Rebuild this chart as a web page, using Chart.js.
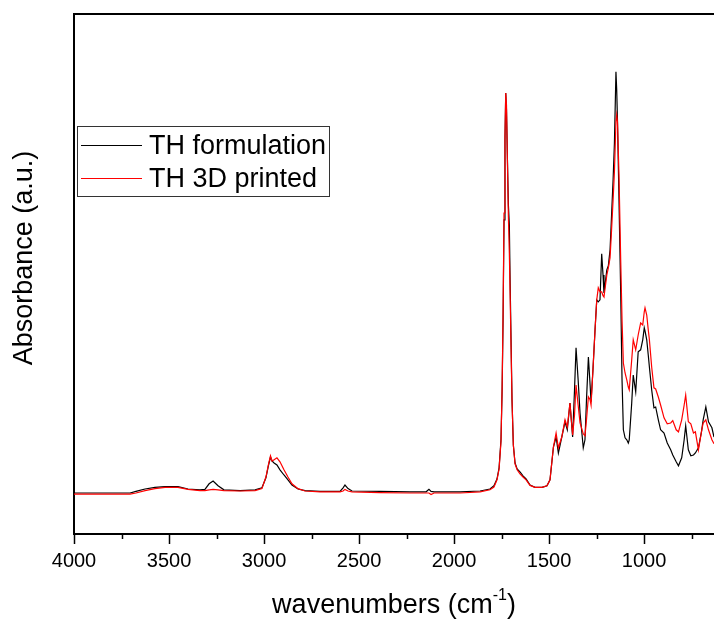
<!DOCTYPE html>
<html>
<head>
    <title>FTIR spectra</title>
    <script src="https://cdn.jsdelivr.net/npm/chart.js"></script>
    <style>
        body { margin: 0; background: #fff; }
        #wrap { width: 714px; height: 622px; }
    </style>
</head>
<body>
    <div id="wrap"><canvas id="spectrum" width="714" height="622"></canvas></div>

    <script>
        // wavenumbers (cm-1)
        const wavenumbers = [4000,3863,3705,3674,3626,3574,3521,3453,3400,3337,3311,3289,3268,3242,3211,3126,3047,3011,2990,2976,2966,2958,2947,2932,2916,2895,2874,2853,2821,2784,2705,2600,2584,2574,2558,2537,2390,2232,2147,2132,2121,2105,1968,1863,1811,1790,1774,1763,1753,1747,1742,1737,1732,1728,1724,1719,1714,1709,1705,1700,1695,1688,1679,1668,1653,1637,1621,1600,1574,1537,1511,1495,1477,1463,1451,1433,1416,1404,1390,1376,1366,1358,1347,1337,1320,1311,1303,1293,1284,1279,1269,1258,1249,1241,1232,1223,1216,1211,1196,1188,1179,1171,1163,1156,1148,1144,1140,1132,1123,1116,1109,1100,1091,1083,1078,1065,1057,1044,1031,1018,1007,999,995,986,978,972,960,948,939,925,913,895,878,860,849,831,819,802,789,781,767,754,740,730,714,698,689,675,661,643,632];

        // absorbance, arbitrary units
        const thFormulation = [0.000,0.000,0.000,0.004,0.010,0.014,0.016,0.016,0.010,0.008,0.009,0.023,0.030,0.018,0.008,0.006,0.008,0.013,0.038,0.070,0.090,0.080,0.075,0.070,0.058,0.045,0.033,0.020,0.010,0.006,0.004,0.004,0.013,0.020,0.011,0.005,0.004,0.003,0.003,0.009,0.004,0.003,0.003,0.005,0.010,0.018,0.035,0.063,0.133,0.258,0.433,0.683,0.883,1.000,0.958,0.833,0.720,0.670,0.533,0.383,0.233,0.120,0.075,0.060,0.053,0.043,0.035,0.020,0.014,0.014,0.018,0.033,0.115,0.140,0.100,0.140,0.178,0.158,0.225,0.140,0.258,0.363,0.283,0.200,0.113,0.133,0.233,0.340,0.270,0.228,0.308,0.408,0.483,0.478,0.483,0.598,0.545,0.500,0.558,0.568,0.608,0.695,0.783,0.875,1.053,1.008,0.933,0.733,0.500,0.283,0.158,0.138,0.133,0.125,0.133,0.225,0.295,0.253,0.353,0.358,0.383,0.413,0.405,0.383,0.345,0.315,0.258,0.213,0.215,0.183,0.158,0.150,0.125,0.108,0.095,0.078,0.068,0.088,0.133,0.168,0.108,0.093,0.095,0.100,0.113,0.153,0.183,0.215,0.178,0.163,0.140];

        const th3dPrinted = [-0.003,-0.003,-0.003,0.000,0.006,0.011,0.014,0.014,0.009,0.006,0.006,0.008,0.009,0.008,0.006,0.005,0.006,0.011,0.040,0.073,0.093,0.080,0.083,0.088,0.078,0.058,0.040,0.023,0.011,0.005,0.003,0.003,0.005,0.009,0.005,0.003,0.001,0.000,0.000,0.000,-0.004,0.000,0.000,0.003,0.008,0.015,0.033,0.060,0.128,0.265,0.450,0.700,0.893,1.000,0.970,0.825,0.690,0.600,0.500,0.365,0.233,0.120,0.073,0.058,0.048,0.040,0.033,0.019,0.014,0.014,0.018,0.033,0.115,0.150,0.113,0.140,0.183,0.165,0.225,0.145,0.195,0.270,0.220,0.175,0.148,0.143,0.183,0.240,0.233,0.220,0.308,0.408,0.483,0.513,0.503,0.503,0.493,0.490,0.545,0.563,0.588,0.658,0.733,0.803,0.928,0.945,0.928,0.795,0.583,0.433,0.325,0.300,0.283,0.265,0.258,0.333,0.383,0.358,0.395,0.425,0.420,0.453,0.463,0.445,0.408,0.383,0.315,0.263,0.260,0.240,0.220,0.188,0.173,0.175,0.181,0.158,0.153,0.183,0.220,0.245,0.178,0.173,0.150,0.153,0.108,0.153,0.175,0.183,0.158,0.133,0.123];

        const majorTicks = [4000, 3500, 3000, 2500, 2000, 1500, 1000];
        const minorTicks = [3750, 3250, 2750, 2250, 1750, 1250, 750];

        const FONT = '"Liberation Sans", Arial, sans-serif';

        const toPoints = ys => wavenumbers.map((w, i) => ({ x: w, y: ys[i] }));

        // frame top, minor ticks, axis titles and the boxed legend
        const decor = {
            id: 'decor',
            afterDraw(chart) {
                const { ctx, chartArea: a, scales: { x } } = chart;
                ctx.save();
                ctx.strokeStyle = '#000';
                ctx.lineWidth = 2;
                ctx.beginPath();
                ctx.moveTo(a.left - 1, a.top);
                ctx.lineTo(a.right, a.top);
                ctx.stroke();

                ctx.lineWidth = 1.5;
                minorTicks.forEach(v => {
                    const px = Math.round(x.getPixelForValue(v)) + 0.5;
                    if (px > a.right) return;
                    ctx.beginPath();
                    ctx.moveTo(px, a.bottom);
                    ctx.lineTo(px, a.bottom + 5);
                    ctx.stroke();
                });

                // x title with superscript
                ctx.fillStyle = '#000';
                ctx.textBaseline = 'alphabetic';
                ctx.font = '27px ' + FONT;
                const p1 = 'wavenumbers (cm', p3 = ')';
                const sup = '-1';
                const w1 = ctx.measureText(p1).width, w3 = ctx.measureText(p3).width;
                ctx.font = '16px ' + FONT;
                const w2 = ctx.measureText(sup).width;
                let tx = (a.left + a.right) / 2 - (w1 + w2 + w3) / 2;
                const base = 613;
                ctx.font = '27px ' + FONT;
                ctx.textAlign = 'left';
                ctx.fillText(p1, tx, base);
                ctx.font = '16px ' + FONT;
                ctx.fillText(sup, tx + w1, base - 13);
                ctx.font = '27px ' + FONT;
                ctx.fillText(p3, tx + w1 + w2, base);

                // y title
                ctx.save();
                ctx.translate(25, 258);
                ctx.rotate(-Math.PI / 2);
                ctx.textAlign = 'center';
                ctx.textBaseline = 'middle';
                ctx.fillText('Absorbance (a.u.)', 0, 0);
                ctx.restore();

                // legend
                ctx.strokeStyle = '#333';
                ctx.lineWidth = 1;
                ctx.strokeRect(77.5, 126.5, 252, 70);
                const rows = [chart.data.datasets[1], chart.data.datasets[0]];
                rows.forEach((ds, i) => {
                    const ly = 145.5 + i * 33;
                    ctx.strokeStyle = ds.borderColor;
                    ctx.beginPath();
                    ctx.moveTo(81, ly);
                    ctx.lineTo(142, ly);
                    ctx.stroke();
                    ctx.fillStyle = '#000';
                    ctx.textAlign = 'left';
                    ctx.textBaseline = 'middle';
                    ctx.fillText(ds.label, 149, ly + 1);
                });
                ctx.restore();
            }
        };

        new Chart(document.getElementById('spectrum'), {
            type: 'line',
            data: {
                datasets: [
                    {
                        label: 'TH 3D printed',
                        data: toPoints(th3dPrinted),
                        borderColor: '#ff0000',
                        borderWidth: 1.2,
                        pointRadius: 0,
                        order: 0
                    },
                    {
                        label: 'TH formulation',
                        data: toPoints(thFormulation),
                        borderColor: '#000000',
                        borderWidth: 1.2,
                        pointRadius: 0,
                        order: 1
                    }
                ]
            },
            options: {
                responsive: false,
                animation: false,
                layout: { padding: { top: 14, right: 0, left: 0, bottom: 0 } },
                plugins: { legend: { display: false }, tooltip: { enabled: false } },
                scales: {
                    x: {
                        type: 'linear',
                        reverse: true,
                        min: 632,
                        max: 4000,
                        afterBuildTicks: axis => { axis.ticks = majorTicks.map(v => ({ value: v })); },
                        afterFit: axis => { axis.height = 88; },
                        border: { display: true, color: '#000', width: 2 },
                        grid: { drawOnChartArea: false, drawTicks: true, tickLength: 10, tickColor: '#000', tickWidth: 1.5 },
                        ticks: {
                            color: '#000',
                            font: { family: FONT, size: 20 },
                            padding: 5,
                            maxRotation: 0,
                            autoSkip: false,
                            callback: v => String(v)
                        }
                    },
                    y: {
                        min: -0.1025,
                        max: 1.1975,
                        afterFit: axis => { axis.width = 74; },
                        border: { display: true, color: '#000', width: 2 },
                        grid: { drawOnChartArea: false, drawTicks: false },
                        ticks: { display: false }
                    }
                }
            },
            plugins: [decor]
        });
    </script>
</body>
</html>
